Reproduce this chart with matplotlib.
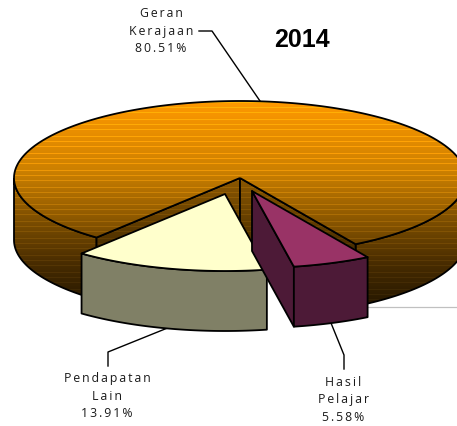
import numpy as np
import matplotlib
matplotlib.use('Agg')
import matplotlib.pyplot as plt
from matplotlib.patches import Polygon
from matplotlib.colors import LinearSegmentedColormap

title = '2014'
names = ['Geran\nKerajaan', 'Hasil\nPelajar', 'Pendapatan\nLain']
shares = [80.51, 5.58, 13.91]

cx, cy = 240, 178
rx, ry = 226, 77
depth = 62
start = 219.4

orange_stops = [(0.0, '#ff9900'), (0.34, '#cc8000'), (0.62, '#805000'), (0.8, '#4f3000'), (1.0, '#2a1a00')]
orange_map = LinearSegmentedColormap.from_list('orange_fade', orange_stops)

z = [1]

def rim(a, b, dx=0, dy=0, n=120):
    t = np.radians(np.linspace(a, b, n))
    return np.column_stack([cx + dx + rx*np.sin(t), cy + dy - ry*np.cos(t)])

def add_poly(pts, color, lw=1.3):
    z[0] += 1
    ax.add_patch(Polygon(pts, closed=True, fc=color, ec='black', lw=lw, joinstyle='round', zorder=z[0]))

def add_fade(pts, lw=1.3, shade=1.0):
    z[0] += 1
    clip = Polygon(pts, closed=True, fc='none', ec='none', transform=ax.transData)
    ax.add_patch(clip)
    im = ax.imshow(fade * shade, extent=(0, 457, 426, 0), aspect='auto', interpolation='nearest', zorder=z[0])
    im.set_clip_path(clip)
    z[0] += 1
    ax.add_patch(Polygon(pts, closed=True, fc='none', ec='black', lw=lw, zorder=z[0]))

def band(a, b, dx=0, dy=0, d=depth):
    top = rim(a, b, dx, dy)
    return np.vstack([top, (top + [0, d])[::-1]])

# row colours of the orange slice, lighter streaks every few rows
rows = np.clip((np.arange(426) - 101) / 204.0, 0, 1)
fade = orange_map(rows)[:, :3]
streak = (np.arange(426) * 7) % 17 < 3
fade[streak] = np.clip(fade[streak] * 1.14 + 0.02, 0, 1)
fade = fade[:, None, :]

fig = plt.figure(figsize=(4.57, 4.26), dpi=100)
ax = fig.add_axes([0, 0, 1, 1])

angles = np.array(shares) * 3.6
a0 = start
a1 = a0 + angles[0]          # end of orange, past the top
h0 = a1 - 360
h1 = h0 + angles[1]
a3 = h1 + angles[2]

ax.plot([366, 457], [307, 307], color='#c0c0c0', lw=0.9, zorder=1)

# orange slice: outer side, cut walls, top
add_fade(band(90, h0), shade=0.9)
add_fade(band(a0, 270), shade=0.9)
p0 = rim(a0, a0, n=1)[0]
p1 = rim(h0, h0, n=1)[0]
add_fade([(cx, cy), p0, p0 + [0, depth], (cx, cy + depth)], shade=0.72)
add_fade([(cx, cy), p1, p1 + [0, depth], (cx, cy + depth)], shade=0.72)
add_fade(np.vstack([[(cx, cy)], rim(a0, a1, n=300)]))

# Pendapatan Lain pulled out to lower left
off = (-15, 16)
add_poly(band(h1, a3, *off, d=60), '#808066')
add_poly(np.vstack([[(cx + off[0], cy + off[1])], rim(h1, a3, *off)]), '#ffffcc')

# Hasil Pelajar pulled out to lower right
off = (12, 13)
apex = np.array([cx + off[0], cy + off[1]])
q = rim(h1, h1, *off, n=1)[0]
add_poly([apex, q, q + [0, 60], apex + [0, 60]], '#4d1a37')
add_poly(band(h0, h1, *off, d=60), '#4d1a37')
add_poly(np.vstack([[apex], rim(h0, h1, *off)]), '#993366')

# leader lines
ax.plot([199, 212, 260], [31, 31, 101], color='black', lw=1.0, zorder=1)
ax.plot([108, 108, 170], [366, 352, 327], color='black', lw=1.0, zorder=1)
ax.plot([344, 344, 331], [369, 355, 323], color='black', lw=1.0, zorder=1)

def label(x, y, name, share):
    s = name + '\n%.2f%%' % share
    s = '\n'.join('\u2009'.join(part) for part in s.split('\n'))
    ax.text(x, y, s, ha='center', va='center', fontsize=8.8, family=['Open Sans', 'DejaVu Sans'],
            color='#1a1a1a', linespacing=1.42, zorder=50)

label(161, 31, names[0], shares[0])
label(343, 400, names[1], shares[1])
label(107, 396, names[2], shares[2])
ax.text(302, 40, title, ha='center', va='center', fontsize=18, fontweight='bold', family='Liberation Sans', zorder=50)

ax.set_xlim(0, 457)
ax.set_ylim(426, 0)
ax.axis('off')
fig.savefig('out.png', dpi=100)
